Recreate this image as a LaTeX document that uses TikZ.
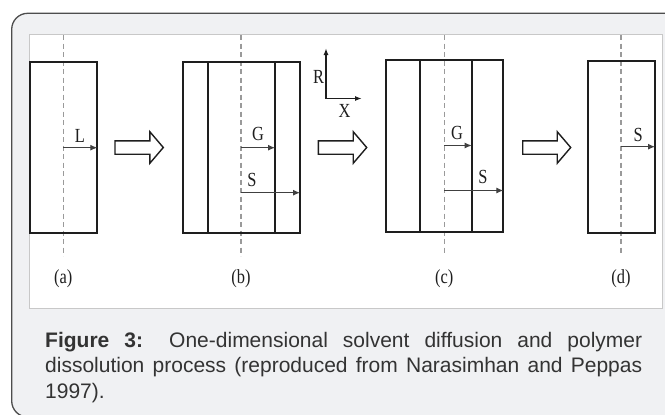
\documentclass[tikz,border=0pt]{standalone}
\usepackage{fontspec}
\setmainfont{Liberation Sans}
\newfontfamily\labfont[FakeStretch=0.82]{Liberation Serif}
\usetikzlibrary{arrows.meta}
\definecolor{framebg}{HTML}{F0F1F3}
\definecolor{framecol}{HTML}{4D4D4D}
\definecolor{panelcol}{HTML}{C8C8C8}
\definecolor{inkcol}{HTML}{1E1E1E}
\definecolor{dashcol}{HTML}{9A9A9A}
\definecolor{capcol}{HTML}{333333}
\tikzset{
  stripbox/.style={draw=inkcol, line width=2pt, inner sep=0pt, fill=none},
  stripline/.style={draw=inkcol, line width=2pt},
  centerline/.style={draw=dashcol, line width=1.2pt, dash pattern=on 5pt off 3.5pt},
  lenarrow/.style={draw=inkcol!85, line width=1pt, -{Latex[length=7pt,width=6pt]}},
  axisarrow/.style={draw=inkcol, line width=1.6pt, {Latex[length=7pt,width=5pt]}-{Latex[length=7pt,width=5pt]}},
  hollow/.style={draw=inkcol, line width=1.4pt, fill=white, line join=miter},
  lab/.style={font=\labfont\fontsize{20}{24}\selectfont, text=inkcol, inner sep=0pt, anchor=base},
  captxt/.style={font=\fontsize{21}{25.5}\selectfont, text=capcol, inner sep=0pt, anchor=base west}
}
\newcommand{\hollowarr}[3]{%
  \draw[hollow] (#1,#3-6.7) -- (#2-13.5,#3-6.7) -- (#2-13.5,#3-15.8) -- (#2,#3)
    -- (#2-13.5,#3+15.8) -- (#2-13.5,#3+6.7) -- (#1,#3+6.7) -- cycle;}
\begin{document}
\begin{tikzpicture}[x=1pt,y=-1pt]
\useasboundingbox (0,0) rectangle (665,415);
\begin{scope}
  \clip (0,0) rectangle (665,415);
  \draw[framecol, line width=1.3pt, fill=framebg, rounded corners=16pt] (11.7,13.3) rectangle (690,417);
\end{scope}
\draw[panelcol, line width=1pt, fill=white] (29,34) rectangle (662,308);

% ---------- (a)
\coordinate (da1) at (63.3,35);
\coordinate (da2) at (63.3,256);
\draw[centerline] (da1) -- (da2);
\node[stripbox, minimum width=67.3pt, minimum height=170.4pt] (boxa) at (63.65,147.5) {};
\coordinate (la0) at (63.3,147.7);
\coordinate (la1) at (97.3,147.7);
\draw[lenarrow] (la0) -- (la1);
\node[lab] (labL) at (80,142.7) {L};
\node[lab] (capa) at (63.3,283) {(a)};

% ---------- (b)
\coordinate (db1) at (241,35);
\coordinate (db2) at (241,256);
\draw[centerline] (db1) -- (db2);
\node[stripbox, minimum width=117.3pt, minimum height=170.4pt] (boxb) at (241.35,147.5) {};
\draw[stripline] (207.7,62.3) -- (207.7,232.7);
\draw[stripline] (275,62.3) -- (275,232.7);
\coordinate (gb0) at (241,147.7);
\coordinate (gb1) at (275,147.7);
\draw[lenarrow] (gb0) -- (gb1);
\coordinate (sb0) at (241,192.7);
\coordinate (sb1) at (300,192.7);
\draw[lenarrow] (sb0) -- (sb1);
\node[lab] (labGb) at (258,140.7) {G};
\node[lab] (labSb) at (252,186) {S};
\node[lab] (capb) at (241,283) {(b)};

% ---------- axes
\coordinate (ytip) at (326,48);
\coordinate (orig) at (326,98.5);
\coordinate (xtip) at (362,98.5);
\draw[axisarrow] (ytip) -- (orig) -- (xtip);
\node[lab] (labR) at (318.5,83.3) {R};
\node[lab] (labX) at (344.5,117.3) {X};

% ---------- (c)
\coordinate (dc1) at (444.3,35);
\coordinate (dc2) at (444.3,254);
\draw[centerline] (dc1) -- (dc2);
\node[stripbox, minimum width=117.3pt, minimum height=171.7pt] (boxc) at (444.65,145.85) {};
\draw[stripline] (420,60) -- (420,231.7);
\draw[stripline] (471.7,60) -- (471.7,231.7);
\coordinate (gc0) at (444.3,145.5);
\coordinate (gc1) at (471.7,145.5);
\draw[lenarrow] (gc0) -- (gc1);
\coordinate (sc0) at (444.3,190.5);
\coordinate (sc1) at (503.3,190.5);
\draw[lenarrow] (sc0) -- (sc1);
\node[lab] (labGc) at (457,139.3) {G};
\node[lab] (labSc) at (483,183.3) {S};
\node[lab] (capc) at (444.3,283) {(c)};

% ---------- (d)
\coordinate (dd1) at (621,35);
\coordinate (dd2) at (621,255);
\draw[centerline] (dd1) -- (dd2);
\node[stripbox, minimum width=67.3pt, minimum height=171.7pt] (boxd) at (621.35,146.85) {};
\coordinate (sd0) at (621,146.7);
\coordinate (sd1) at (655,146.7);
\draw[lenarrow] (sd0) -- (sd1);
\node[lab] (labSd) at (638.3,141.7) {S};
\node[lab] (capd) at (621,283) {(d)};

% ---------- hollow arrows
\hollowarr{115}{163.3}{147.5}
\hollowarr{318.3}{366.7}{147.5}
\hollowarr{522.7}{570.7}{147.5}

% ---------- caption
\node[captxt] (cap1) at (45,347.3) {\makebox[597pt][s]{\textbf{Figure 3:} One-dimensional solvent diffusion and polymer}};
\node[captxt] (cap2) at (45,372.8) {\makebox[597pt][s]{dissolution process (reproduced from Narasimhan and Peppas}};
\node[captxt] (cap3) at (45,398.3) {1997).};
\end{tikzpicture}
\end{document}
